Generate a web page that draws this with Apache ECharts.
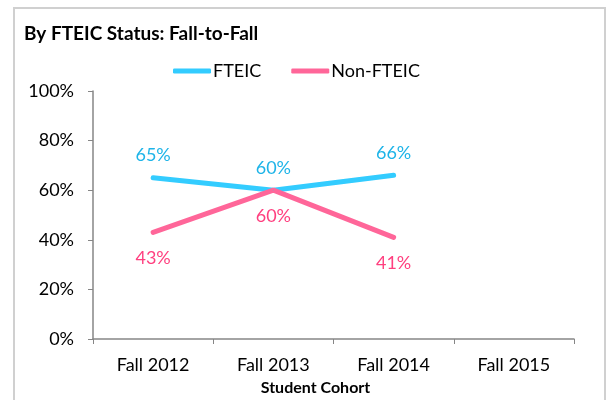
<!DOCTYPE html>
<html>
<head>
<meta charset="utf-8">
<script src="https://cdn.jsdelivr.net/npm/echarts@6/dist/echarts.min.js"></script>
<style>
  html, body { margin: 0; padding: 0; background: #fff; }
  #chart { width: 610px; height: 400px; }
</style>
</head>
<body>
<div id="chart"></div>
<script>
var cohorts = ['Fall 2012', 'Fall 2013', 'Fall 2014', 'Fall 2015'];
var fteic = [0.65, 0.60, 0.66, null];
var nonFteic = [0.43, 0.60, 0.41, null];
var yTicks = [0, 0.2, 0.4, 0.6, 0.8, 1.0];

var font = 'Lato, "Liberation Sans", sans-serif';
var pct = function (v) { return Math.round(v * 100) + '%'; };

var myChart = echarts.init(document.getElementById('chart'));
myChart.setOption({
    animation: false,
    textStyle: { fontFamily: font },
    graphic: [{
        type: 'rect',
        shape: { x: 14, y: 8, width: 591, height: 400 },
        style: { fill: 'none', stroke: '#d0d0d0', lineWidth: 2 },
        silent: true
    }],
    title: {
        text: 'By FTEIC Status: Fall-to-Fall',
        left: 19, top: 19,
        textStyle: { fontFamily: font, fontSize: 19, fontWeight: 'bold', color: '#000' }
    },
    legend: {
        top: 57, left: 168,
        itemWidth: 38, itemHeight: 5, itemGap: 30,
        icon: 'roundRect',
        textStyle: { fontFamily: font, fontSize: 18, color: '#000', padding: [0, 0, 0, -3] },
        data: ['FTEIC', 'Non-FTEIC']
    },
    grid: { left: 93, right: 36, top: 91, bottom: 61, outerBoundsMode: 'none', containLabel: false },
    xAxis: {
        type: 'category',
        data: cohorts,
        boundaryGap: true,
        name: 'Student Cohort',
        nameLocation: 'middle',
        nameGap: 41,
        nameTextStyle: { fontFamily: font, fontSize: 16, fontWeight: 'bold', color: '#000', padding: [0, 36, 0, 0] },
        axisLine: { lineStyle: { color: '#868686', width: 1.5 } },
        axisTick: { show: true, length: 5, lineStyle: { color: '#868686' } },
        axisLabel: { fontFamily: font, fontSize: 18, color: '#000', margin: 17 }
    },
    yAxis: {
        type: 'value',
        min: yTicks[0], max: yTicks[yTicks.length - 1], interval: 0.2,
        axisLine: { show: true, lineStyle: { color: '#868686', width: 1.5 } },
        axisTick: { show: true, length: 5, lineStyle: { color: '#868686' } },
        splitLine: { show: false },
        axisLabel: { fontFamily: font, fontSize: 18, color: '#000', margin: 19, formatter: pct }
    },
    series: [{
        name: 'FTEIC',
        type: 'line',
        data: fteic,
        symbol: 'circle',
        symbolSize: 1,
        itemStyle: { color: '#33ccff' },
        lineStyle: { color: '#33ccff', width: 5, cap: 'round' },
        label: {
            show: true, position: 'top', distance: 13,
            fontFamily: font, fontSize: 18, color: '#1eb4e8',
            formatter: function (p) { return pct(p.value); }
        }
    }, {
        name: 'Non-FTEIC',
        type: 'line',
        data: nonFteic,
        symbol: 'circle',
        symbolSize: 1,
        itemStyle: { color: '#ff6699' },
        lineStyle: { color: '#ff6699', width: 5, cap: 'round' },
        label: {
            show: true, position: 'bottom', distance: 16,
            fontFamily: font, fontSize: 18, color: '#ff3f7f',
            formatter: function (p) { return pct(p.value); }
        }
    }]
});
</script>
</body>
</html>
